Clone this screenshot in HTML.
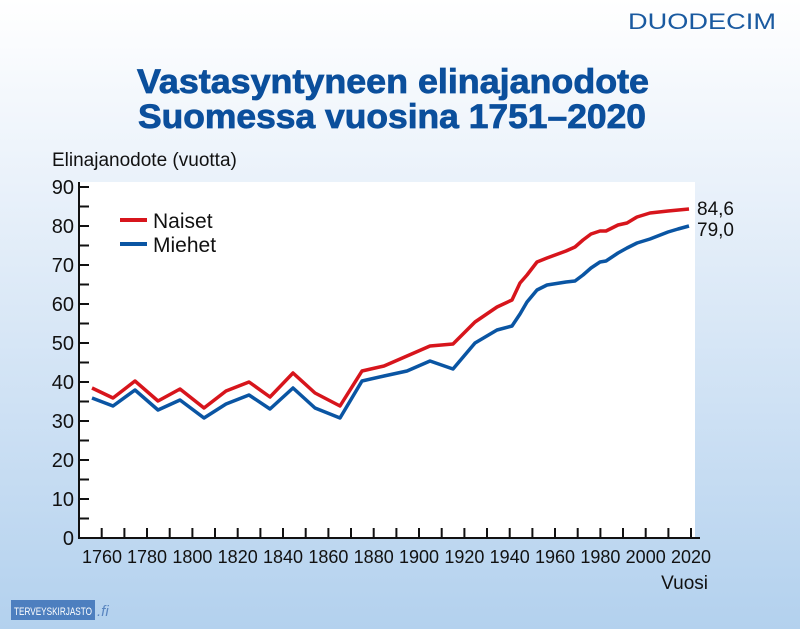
<!DOCTYPE html>
<html><head><meta charset="utf-8"><style>
body{margin:0}
svg{display:block}
text{font-family:"Liberation Sans",Arial,sans-serif}
</style></head><body>
<svg width="800" height="629" viewBox="0 0 800 629" xmlns="http://www.w3.org/2000/svg">
<defs><linearGradient id="bg" x1="0" y1="0" x2="0" y2="1">
<stop offset="0" stop-color="#ffffff"/><stop offset="0.3" stop-color="#e9f1fa"/><stop offset="1" stop-color="#b3d1ee"/></linearGradient></defs>
<rect width="800" height="629" fill="url(#bg)"/>
<text x="628" y="29" font-size="22" fill="#1a5aa0" textLength="148" lengthAdjust="spacingAndGlyphs">DUODECIM</text>
<text x="137" y="93" font-size="34" font-weight="bold" fill="#0b4f9c" textLength="512" lengthAdjust="spacingAndGlyphs" stroke="#0b4f9c" stroke-width="0.8">Vastasyntyneen elinajanodote</text>
<text x="138" y="128" font-size="34" font-weight="bold" fill="#0b4f9c" textLength="508" lengthAdjust="spacingAndGlyphs" stroke="#0b4f9c" stroke-width="0.8">Suomessa vuosina 1751–2020</text>
<text x="52" y="166" font-size="19" fill="#111">Elinajanodote (vuotta)</text>
<rect x="79" y="182" width="616" height="356" fill="#fff"/>
<g stroke="#111" stroke-width="2" fill="none">
<path d="M79 182V538H700"/>
<path d="M79 187h10M79 206.5h10M79 226h10M79 245.5h10M79 265h10M79 284.5h10M79 304h10M79 323.5h10M79 343h10M79 362.5h10M79 382h10M79 401.5h10M79 421h10M79 440.5h10M79 460h10M79 479.5h10M79 499h10M79 518.5h10"/>
<path d="M101.7 538v-10M124.4 538v-10M147 538v-10M169.7 538v-10M192.4 538v-10M215 538v-10M237.7 538v-10M260.4 538v-10M283 538v-10M305.7 538v-10M328.4 538v-10M351 538v-10M373.7 538v-10M396.4 538v-10M419 538v-10M441.7 538v-10M464.4 538v-10M487 538v-10M509.7 538v-10M532.4 538v-10M555 538v-10M577.7 538v-10M600.4 538v-10M623 538v-10M645.7 538v-10M668.4 538v-10M691 538v-10"/>
</g>
<g font-size="20" fill="#111" text-anchor="end">
<text x="74" y="194">90</text><text x="74" y="233">80</text><text x="74" y="272">70</text><text x="74" y="311">60</text><text x="74" y="350">50</text><text x="74" y="389">40</text><text x="74" y="428">30</text><text x="74" y="467">20</text><text x="74" y="506">10</text><text x="74" y="545">0</text>
</g>
<g font-size="18" fill="#111" text-anchor="middle">
<text x="102" y="563">1760</text><text x="147" y="563">1780</text><text x="192.4" y="563">1800</text><text x="237.7" y="563">1820</text><text x="283" y="563">1840</text><text x="328.4" y="563">1860</text><text x="373.7" y="563">1880</text><text x="419" y="563">1900</text><text x="464.4" y="563">1920</text><text x="509.7" y="563">1940</text><text x="555" y="563">1960</text><text x="600.4" y="563">1980</text><text x="645.7" y="563">2000</text><text x="691" y="563">2020</text>
</g>
<text x="708" y="589" text-anchor="end" font-size="19" fill="#111">Vuosi</text>
<line x1="120" y1="220" x2="147" y2="220" stroke="#d7151c" stroke-width="4"/>
<line x1="120" y1="244" x2="147" y2="244" stroke="#0a55a3" stroke-width="4"/>
<text x="153" y="228" font-size="21" fill="#111">Naiset</text>
<text x="153" y="252" font-size="21" fill="#111">Miehet</text>
<polyline fill="none" stroke="#d7151c" stroke-width="3.5" stroke-linejoin="round" points="92,388 113,398 135,381 158,401 180,389 204,408 226,391 249,382 270,397 293,373 315,393 340,406 362,371 384,366 407,356 430,346 453,344 475,322 497,307 512,300 520,283 527,275 537,262 547,258 566,251 575,247 583,240 591,234 600,231 606,231 618,225 627,223 637,217 650,213 668,211 689,209"/>
<polyline fill="none" stroke="#0a55a3" stroke-width="3.5" stroke-linejoin="round" points="92,398 113,406 135,390 158,410 180,400 204,418 226,404 249,395 270,409 293,388 315,408 340,418 362,381 384,376 407,371 430,361 453,369 475,343 497,330 512,326 520,314 527,302 537,290 547,285 566,282 575,281 583,275 591,268 600,262 606,261 618,253 627,248 637,243 650,239 668,232 678,229 689,226"/>
<text x="697" y="215" font-size="19" fill="#111">84,6</text>
<text x="697" y="236" font-size="19" fill="#111">79,0</text>
<rect x="11" y="600" width="84" height="20" fill="#4d7fbf"/>
<text x="14" y="615" font-size="11" fill="#fff" textLength="78" lengthAdjust="spacingAndGlyphs">TERVEYSKIRJASTO</text>
<text x="97" y="616" font-size="15" font-style="italic" fill="#5a86c0">.fi</text>
</svg>
</body></html>
